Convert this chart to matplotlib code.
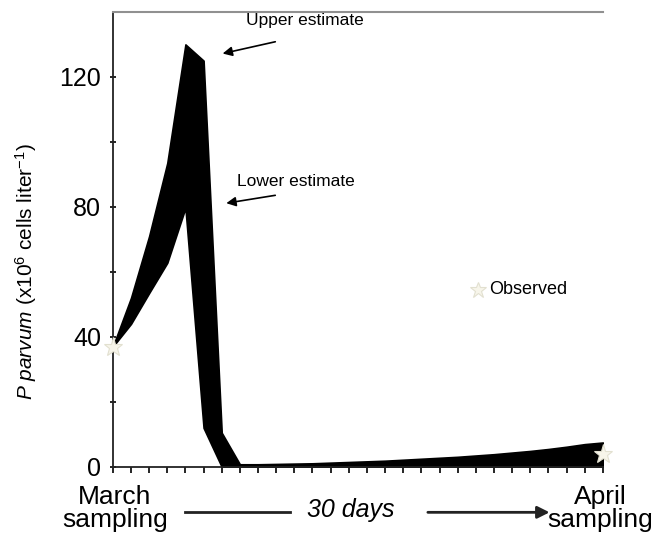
import matplotlib
matplotlib.use("Agg")
import matplotlib.pyplot as plt
import numpy as np

plt.rcParams['font.family'] = ['Liberation Sans', 'DejaVu Sans']
plt.rcParams['mathtext.fontset'] = 'custom'
plt.rcParams['mathtext.rm'] = 'Liberation Sans'
plt.rcParams['mathtext.it'] = 'Liberation Sans:italic'

# Daily model estimates of P. parvum between the two samplings
days = np.arange(0, 28)
upper = [37, 52, 71, 93.5, 130, 125, 10.5, 0.8, 0.8, 0.9,
         1.0, 1.1, 1.3, 1.5, 1.7, 1.9, 2.2, 2.5, 2.8, 3.1,
         3.5, 3.9, 4.4, 4.9, 5.5, 6.2, 7.0, 7.5]
lower = [37, 44, 53.5, 62.8, 79.7, 12, 0, 0, 0, 0,
         0, 0, 0, 0, 0, 0, 0, 0, 0, 0,
         0, 0, 0, 0, 0, 0, 0, 0]
obs_days = [0, 27]
obs_vals = [37, 4]

fig = plt.figure(figsize=(6.56, 5.41), dpi=100)
ax = fig.add_axes([0.172, 0.137, 0.747, 0.841])

ax.fill_between(days, lower, upper, color='black', lw=1.2, edgecolor='black')
ax.plot(obs_days, obs_vals, ls='none', marker='*', ms=14,
        mfc='#f7f5ea', mec='#e2e0d0', mew=0.8, zorder=5, clip_on=False)

# legend entry for the observed values
ax.plot([20.1], [54.5], ls='none', marker='*', ms=12,
        mfc='#f7f5ea', mec='#e2e0d0', mew=0.8)
ax.text(20.75, 54.5, 'Observed', fontsize=13, va='center', ha='left')

ax.annotate('', xy=(5.9, 127), xytext=(9.1, 131),
            arrowprops=dict(arrowstyle='-|>', color='black', lw=1.2,
                            mutation_scale=14))
ax.text(10.6, 137.3, 'Upper estimate', fontsize=12.5, ha='center', va='center')
ax.annotate('', xy=(6.1, 81), xytext=(9.1, 83.7),
            arrowprops=dict(arrowstyle='-|>', color='black', lw=1.2,
                            mutation_scale=14))
ax.text(10.1, 87.8, 'Lower estimate', fontsize=12.5, ha='center', va='center')

ax.set_xlim(0, 27)
ax.set_ylim(0, 140)
ax.set_xticks(days)
ax.set_xticklabels([])
ax.set_yticks([0, 40, 80, 120])
ax.set_yticks([20, 60, 100], minor=True)
ax.tick_params(axis='y', labelsize=18, direction='inout', length=5,
               width=1.2, pad=6, which='both')
ax.tick_params(axis='x', direction='out', length=4, width=1.2)
ax.spines['right'].set_visible(False)
ax.spines['top'].set_color('#909090')
ax.spines['top'].set_linewidth(1.5)
ax.spines['left'].set_linewidth(1.3)
ax.spines['bottom'].set_linewidth(1.3)
ax.spines['left'].set_color('#222222')
ax.spines['bottom'].set_color('#222222')

ax.set_ylabel(r'$\it{P\ parvum}$ (x10$^{6}$ cells liter$^{-1}$)', fontsize=15)
ax.yaxis.set_label_coords(-0.15, 0.43)

fig.text(0.175, 0.06, 'March\nsampling', fontsize=19, ha='center',
         va='center', linespacing=0.95)
fig.text(0.915, 0.06, 'April\nsampling', fontsize=19, ha='center',
         va='center', linespacing=0.95)
fig.text(0.534, 0.057, '30 days', fontsize=18, style='italic',
         ha='center', va='center')
fig.add_artist(plt.Line2D([0.282, 0.442], [0.053, 0.053], color='#222222',
                          lw=2, transform=fig.transFigure))
ax.annotate('', xy=(0.842, 0.053), xytext=(0.648, 0.053),
            xycoords='figure fraction', textcoords='figure fraction',
            arrowprops=dict(arrowstyle='-|>', color='#222222', lw=2,
                            mutation_scale=18))

fig.savefig('out.png', dpi=100)
